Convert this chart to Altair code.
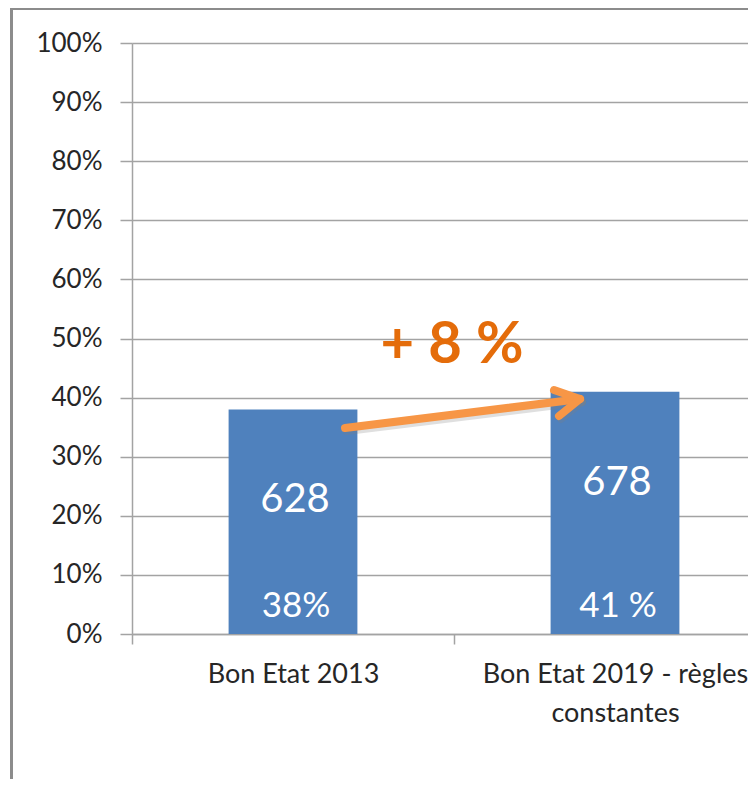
import altair as alt
import pandas as pd

categories = ["Bon Etat 2013", "Bon Etat 2019 - règles constantes"]
label_lines = [["Bon Etat 2013"], ["Bon Etat 2019 - règles", "constantes"]]
shares = [0.38, 0.41]
counts = ["628", "678"]
share_labels = ["38%", "41 %"]
y_ticks = [0, 0.1, 0.2, 0.3, 0.4, 0.5, 0.6, 0.7, 0.8, 0.9, 1.0]
change_label = "+ 8 %"

FONT = "Lato"
GRID = "#a3a3a3"
BAR = "#4F81BD"
ARROW = "#F79646"
ORANGE = "#E46C0A"

df = pd.DataFrame({
    "category": categories,
    "share": shares,
    "count": counts,
    "share_label": share_labels,
})

expr_parts = []
for cat, lines in zip(categories, label_lines):
    arr = "[" + ", ".join("'" + l + "'" for l in lines) + "]"
    expr_parts.append(f"datum.value == '{cat}' ? {arr} : ")
label_expr = "".join(expr_parts) + "datum.label"

x_enc = alt.X(
    "category:N",
    sort=categories,
    scale=alt.Scale(domain=categories, range=[0, 644], paddingInner=0, paddingOuter=0),
    axis=alt.Axis(
        title=None, labelAngle=0, labelFont=FONT, labelFontSize=27, labelColor="#262626",
        labelPadding=17, labelLimit=0, labelExpr=label_expr, labelLineHeight=39,
        tickBand="extent", tickSize=10, tickColor=GRID, tickWidth=1.5,
        domainColor=GRID, domainWidth=1.5, grid=False,
    ),
)
y_scale = alt.Scale(domain=[0, 1], nice=False)
y_enc = alt.Y(
    "share:Q",
    scale=y_scale,
    axis=alt.Axis(
        title=None, values=y_ticks, format=".0%", labelFont=FONT, labelFontSize=26,
        labelColor="#262626", labelPadding=18, tickSize=12, tickColor=GRID, tickWidth=1.5,
        domainColor=GRID, domainWidth=1.5, grid=True, gridColor=GRID, gridWidth=1.5,
    ),
)

base = alt.Chart(df)
bars = base.mark_bar(color=BAR, width=alt.RelativeBandSize(0.4)).encode(x=x_enc, y=y_enc)
count_text = base.mark_text(
    font=FONT, fontSize=40, color="white", baseline="middle", align="center", dy=91, dx=2
).encode(x=x_enc, y="share:Q", text="count:N")
share_text = base.mark_text(
    font=FONT, fontSize=35, color="white", baseline="middle", align="center", dy=-28, dx=3
).encode(x=x_enc, y=alt.datum(0), text="share_label:N")

one = pd.DataFrame({"k": [0]})

def seg(x1, y1, x2, y2, color, width, opacity=1.0):
    return alt.Chart(one).mark_rule(
        color=color, strokeWidth=width, strokeCap="round", opacity=opacity
    ).encode(x=alt.value(x1), y=alt.value(y1), x2=alt.value(x2), y2=alt.value(y2))

arrow_pts = [
    (213, 385, 448, 356),
    (422, 347, 448, 356),
    (427, 373, 448, 356),
]
shadow = [seg(a + 2, b + 3, c + 2, d + 3, "#808080", 8, 0.25) for a, b, c, d in arrow_pts]
arrow = [seg(a, b, c, d, ARROW, 8) for a, b, c, d in arrow_pts]

change = alt.Chart(one).mark_text(
    font=FONT, fontSize=58, fontWeight="bold", color=ORANGE, align="center", baseline="alphabetic"
).encode(x=alt.value(320), y=alt.value(320), text=alt.value(change_label))

frame_left = alt.Chart(one).mark_rule(color="#8c8c8c", strokeWidth=3).encode(
    x=alt.value(-120.5), y=alt.value(-40), y2=alt.value(900)
)
frame_top = alt.Chart(one).mark_rule(color="#8c8c8c", strokeWidth=3).encode(
    y=alt.value(-34.5), x=alt.value(-122), x2=alt.value(900)
)

chart = alt.layer(
    bars, count_text, share_text, *shadow, *arrow, change, frame_left, frame_top
).properties(
    width=616, height=591,
    autosize=alt.AutoSizeParams(type="none"),
    padding={"left": 124, "top": 35, "right": 0, "bottom": 145},
).configure_view(strokeWidth=0).configure(background="white")

chart.save("out.html", embed_options={"renderer": "svg", "actions": False})
